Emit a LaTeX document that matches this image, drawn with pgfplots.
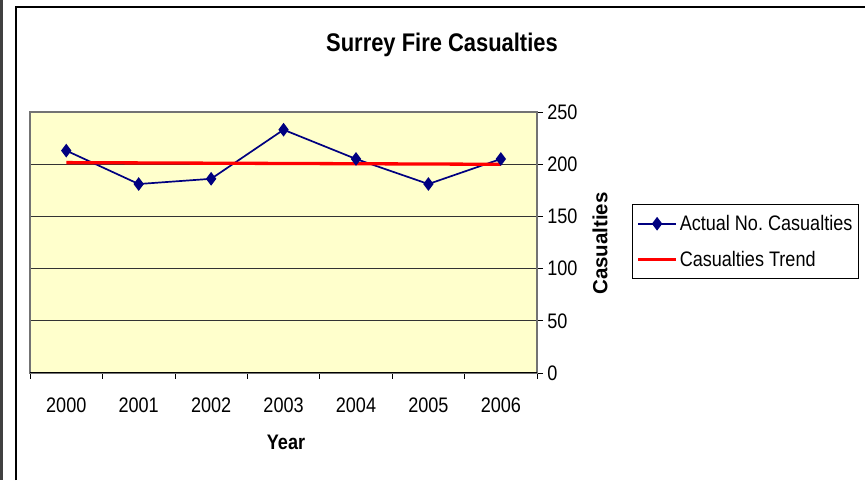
\documentclass[border=0pt]{standalone}
\usepackage{fontspec}
\setmainfont{Liberation Sans}[FakeStretch=0.86]
\newfontfamily\plainsans{Liberation Sans}
\usepackage{pgfplots}
\pgfplotsset{compat=1.18}
\definecolor{plotbg}{HTML}{FFFFCC}
\definecolor{navyline}{HTML}{000080}
\frenchspacing
\begin{document}
\begin{tikzpicture}[x=1pt,y=1pt]
\useasboundingbox (0,0) rectangle (865,480);
\fill[white] (0,0) rectangle (865,480);
\fill[black!75] (0,0) rectangle (3,480);
\draw[black, line width=2pt] (16,0) -- (16,473) -- (866,473);
\node[anchor=base, font=\fontsize{25.5}{30}\selectfont\bfseries] at (442,428.5) {Surrey Fire Casualties};
\begin{axis}[
  scale only axis, width=507pt, height=261pt,
  at={(41.5,102.5)}, anchor=south west,
  xmin=-0.5, xmax=6.5, ymin=0, ymax=250,
  axis background/.style={fill=plotbg},
  axis line style={draw=black!55, line width=1.5pt},
  xtick={-0.5,0.5,...,6.5}, xticklabels={},
  extra x ticks={0,1,2,3,4,5,6},
  extra x tick labels={2000,2001,2002,2003,2004,2005,2006},
  extra x tick style={major tick length=0pt, grid=none},
  ytick={0,50,...,250},
  ytick pos=right, yticklabel pos=right,
  xtick pos=bottom,
  tick align=outside, major tick length=6pt,
  tick style={black, line width=0.8pt},
  ymajorgrids, grid style={black!80, line width=0.8pt},
  /pgf/number format/assume math mode=true,
  ticklabel style={font=\fontsize{21}{25}\selectfont},
  xticklabel style={anchor=north, inner sep=0pt, yshift=-25pt},
  yticklabel style={anchor=west, inner sep=0pt, xshift=4pt},
  legend style={at={(1.1874,0.6475)}, anchor=north west, draw=black, line width=0.8pt,
    font=\fontsize{21}{25}\selectfont, row sep=19pt, inner xsep=4pt, inner ysep=11pt,
    nodes={inner xsep=2pt, inner ysep=0pt}},
  legend cell align=left,
  legend image code/.code={\draw[mark repeat=2,mark phase=2,#1] plot coordinates {(0pt,0pt)(19pt,0pt)(38pt,0pt)};},
]
\addplot[color=navyline, line width=1.7pt, mark=diamond*, mark size=5.5pt, mark options={solid, fill=navyline}]
  coordinates {(0,213)(1,181)(2,186)(3,233)(4,205)(5,181)(6,205)};
\addlegendentry{Actual No. Casualties}
\addplot[color=red, line width=3.3pt] coordinates {(0,201.5)(6,199.9)};
\addlegendentry{Casualties Trend}
\draw[black, line width=1pt] (rel axis cs:0,0) -- (rel axis cs:1,0);
\end{axis}
\node[anchor=base, font=\fontsize{21}{25}\selectfont\bfseries] at (286,31) {Year};
\node[rotate=90, anchor=center, font=\plainsans\fontsize{20.5}{25}\selectfont\bfseries] at (600,236.5) {Casualties};
\end{tikzpicture}
\end{document}
